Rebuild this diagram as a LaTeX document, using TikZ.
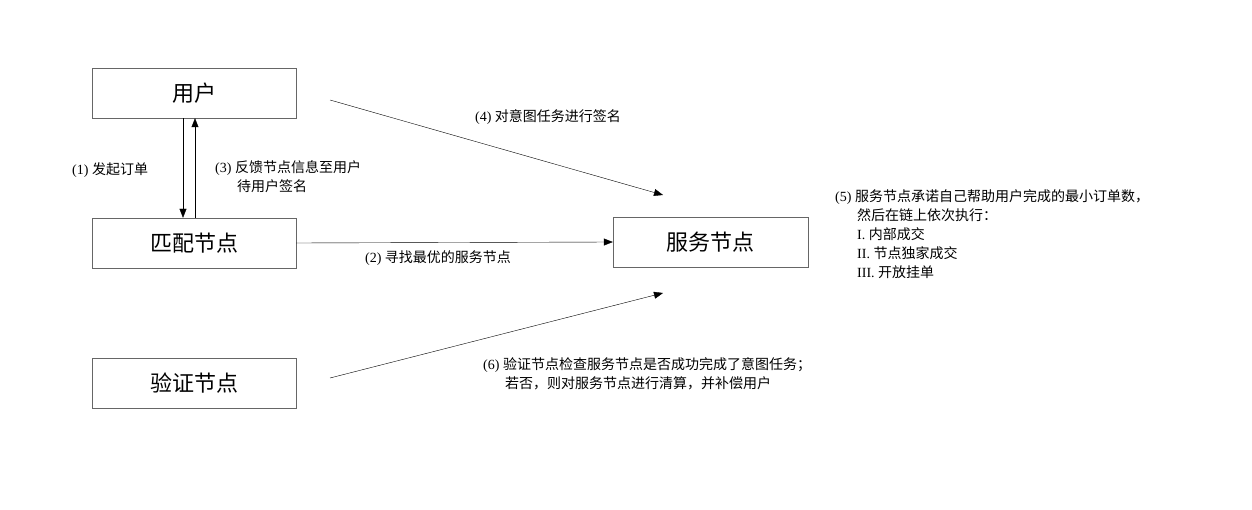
\documentclass[tikz,border=0pt]{standalone}
\usepackage{fontspec}
\setmainfont{Liberation Serif}
\newfontfamily\cjk{Noto Sans CJK SC}
\usetikzlibrary{arrows.meta,positioning}
\tikzset{
  entity/.style={draw=black!60, minimum width=204pt, minimum height=50pt, inner sep=0pt, font=\cjk\fontsize{22}{26}\selectfont},
  flow/.style={-{Triangle[length=9pt,width=7pt]}, black, thin},
  note/.style={font=\fontsize{14}{19}\selectfont, inner sep=0pt, align=left}
}
\begin{document}
\begin{tikzpicture}[x=1pt,y=-1pt]
\useasboundingbox (0,0) rectangle (1252,510);

\node[entity] (user) at (194,93) {用户};
\node[entity] (match) at (194,243) {匹配节点};
\node[entity] (verify) at (194,383) {验证节点};
\node[entity, minimum width=195pt] (serve) at (710.5,242) {服务节点};

\coordinate (c4a) at (330,100);
\coordinate (c4b) at (663,195);
\coordinate (c6a) at (330,378);
\coordinate (c6b) at (663,293);

\draw[flow] ([xshift=-11pt]user.south) -- ([xshift=-11pt]match.north);
\draw[flow] ([xshift=1pt]match.north) -- ([xshift=1pt]user.south);
\draw[flow] (c4a) -- (c4b);
\draw[flow] (match.east) -- (serve.west);
\draw[flow] (c6a) -- (c6b);

\node[note, anchor=west] (l1) at (72,170) {(1) {\cjk 发起订单}};
\node[note, anchor=north west] (l3) at (215,160) {(3) {\cjk 反馈节点信息至用户}\\\hspace*{22pt}{\cjk 待用户签名}};
\node[note] (l4) at (548,117) {(4) {\cjk 对意图任务进行签名}};
\node[note] (l2) at (438,258) {(2) {\cjk 寻找最优的服务节点}};
\node[note, anchor=north west] (l5) at (835,189) {(5) {\cjk 服务节点承诺自己帮助用户完成的最小订单数，}\\
\hspace*{22pt}{\cjk 然后在链上依次执行：}\\
\hspace*{22pt}I. {\cjk 内部成交}\\
\hspace*{22pt}II. {\cjk 节点独家成交}\\
\hspace*{22pt}III. {\cjk 开放挂单}};
\node[note, anchor=north west] (l6) at (483,357) {(6) {\cjk 验证节点检查服务节点是否成功完成了意图任务；}\\
\hspace*{22pt}{\cjk 若否，则对服务节点进行清算，并补偿用户}};
\end{tikzpicture}
\end{document}
